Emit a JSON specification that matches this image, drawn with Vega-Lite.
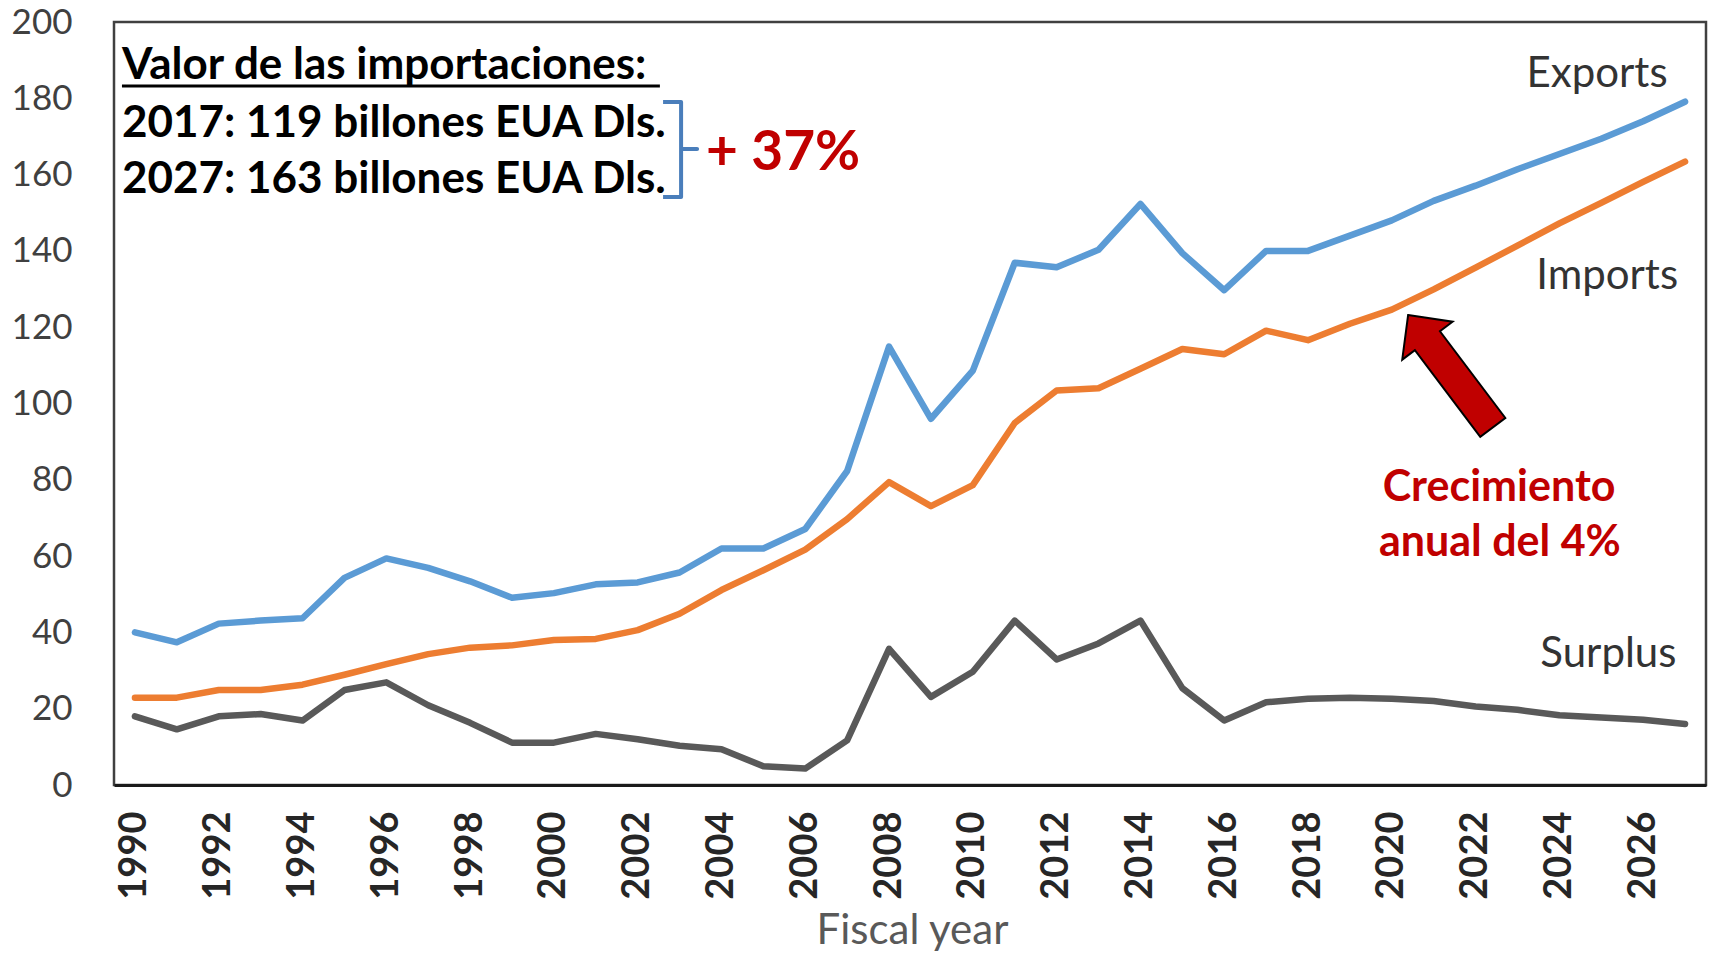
{
  "$schema": "https://vega.github.io/schema/vega-lite/v6.json",
  "width": 1592,
  "height": 763,
  "autosize": {"type": "none"},
  "padding": {"left": 114, "top": 22, "right": 3, "bottom": 168},
  "background": "white",
  "config": {
    "font": "Lato",
    "view": {"stroke": "#404040", "strokeWidth": 2.5}
  },
  "encoding": {
    "x": {
      "field": "year",
      "type": "quantitative",
      "scale": {"domain": [1989.5, 2027.5], "nice": false, "zero": false},
      "axis": {
        "values": [1990, 1992, 1994, 1996, 1998, 2000, 2002, 2004, 2006, 2008, 2010, 2012, 2014, 2016, 2018, 2020, 2022, 2024, 2026],
        "format": "d",
        "grid": false,
        "ticks": false,
        "domain": true,
        "domainColor": "#1a1a1a",
        "domainWidth": 3,
        "labelAngle": 270,
        "labelAlign": "right",
        "labelBaseline": "middle",
        "labelPadding": 26,
        "labelFontSize": 38,
        "labelFontWeight": "bold",
        "labelColor": "#262626",
        "labelOverlap": false,
        "title": "Fiscal year",
        "titleFontSize": 42,
        "titleFontWeight": "normal",
        "titleColor": "#595959",
        "titleX": 798,
        "titleY": 158,
        "titleBaseline": "alphabetic",
        "titleAlign": "center",
        "titleAnchor": null
      }
    },
    "y": {
      "field": "value",
      "type": "quantitative",
      "scale": {"domain": [0, 200], "nice": false},
      "axis": {
        "values": [0, 20, 40, 60, 80, 100, 120, 140, 160, 180, 200],
        "grid": false,
        "ticks": false,
        "domain": false,
        "labelPadding": 42,
        "labelFontSize": 35,
        "labelColor": "#404040",
        "title": null
      }
    }
  },
  "layer": [
    {
      "data": {
        "values": [
          {"year": 1990, "Exports": 40, "Imports": 22.9, "Surplus": 18},
          {"year": 1991, "Exports": 37.4, "Imports": 22.9, "Surplus": 14.6},
          {"year": 1992, "Exports": 42.3, "Imports": 24.9, "Surplus": 18},
          {"year": 1993, "Exports": 43.1, "Imports": 24.9, "Surplus": 18.6},
          {"year": 1994, "Exports": 43.7, "Imports": 26.3, "Surplus": 16.9},
          {"year": 1995, "Exports": 54.3, "Imports": 28.9, "Surplus": 24.9},
          {"year": 1996, "Exports": 59.4, "Imports": 31.7, "Surplus": 26.9},
          {"year": 1997, "Exports": 56.9, "Imports": 34.3, "Surplus": 20.9},
          {"year": 1998, "Exports": 53.4, "Imports": 36, "Surplus": 16.3},
          {"year": 1999, "Exports": 49.1, "Imports": 36.6, "Surplus": 11.1},
          {"year": 2000, "Exports": 50.3, "Imports": 38, "Surplus": 11.1},
          {"year": 2001, "Exports": 52.6, "Imports": 38.3, "Surplus": 13.4},
          {"year": 2002, "Exports": 53.1, "Imports": 40.6, "Surplus": 12},
          {"year": 2003, "Exports": 55.7, "Imports": 44.9, "Surplus": 10.3},
          {"year": 2004, "Exports": 62, "Imports": 51.1, "Surplus": 9.4},
          {"year": 2005, "Exports": 62, "Imports": 56.3, "Surplus": 4.9},
          {"year": 2006, "Exports": 67.1, "Imports": 61.7, "Surplus": 4.3},
          {"year": 2007, "Exports": 82.3, "Imports": 69.7, "Surplus": 11.7},
          {"year": 2008, "Exports": 114.9, "Imports": 79.4, "Surplus": 35.7},
          {"year": 2009, "Exports": 96, "Imports": 73.1, "Surplus": 23.1},
          {"year": 2010, "Exports": 108.6, "Imports": 78.6, "Surplus": 29.7},
          {"year": 2011, "Exports": 136.9, "Imports": 94.9, "Surplus": 43.1},
          {"year": 2012, "Exports": 135.7, "Imports": 103.4, "Surplus": 32.9},
          {"year": 2013, "Exports": 140.3, "Imports": 104, "Surplus": 37.1},
          {"year": 2014, "Exports": 152.3, "Imports": 109.1, "Surplus": 43.1},
          {"year": 2015, "Exports": 139.4, "Imports": 114.3, "Surplus": 25.4},
          {"year": 2016, "Exports": 129.7, "Imports": 112.9, "Surplus": 16.9},
          {"year": 2017, "Exports": 140, "Imports": 119.1, "Surplus": 21.7},
          {"year": 2018, "Exports": 140, "Imports": 116.6, "Surplus": 22.6},
          {"year": 2019, "Exports": 144, "Imports": 120.9, "Surplus": 22.9},
          {"year": 2020, "Exports": 148, "Imports": 124.6, "Surplus": 22.6},
          {"year": 2021, "Exports": 153.1, "Imports": 129.9, "Surplus": 22},
          {"year": 2022, "Exports": 157.1, "Imports": 135.6, "Surplus": 20.6},
          {"year": 2023, "Exports": 161.4, "Imports": 141.4, "Surplus": 19.7},
          {"year": 2024, "Exports": 165.4, "Imports": 147.2, "Surplus": 18.3},
          {"year": 2025, "Exports": 169.4, "Imports": 152.6, "Surplus": 17.7},
          {"year": 2026, "Exports": 174, "Imports": 158.1, "Surplus": 17.1},
          {"year": 2027, "Exports": 179.1, "Imports": 163.4, "Surplus": 16}
        ]
      },
      "transform": [{"fold": ["Exports", "Imports", "Surplus"], "as": ["series", "value"]}],
      "mark": {"type": "line", "strokeWidth": 6.5, "strokeJoin": "round", "strokeCap": "round"},
      "encoding": {
        "color": {
          "field": "series",
          "type": "nominal",
          "scale": {"domain": ["Exports", "Imports", "Surplus"], "range": ["#5B9BD5", "#ED7D31", "#595959"]},
          "legend": null
        }
      }
    },
    {
      "data": {
        "values": [
          {"year": 1989.69, "value": 185.06, "t": "Valor de las importaciones:"},
          {"year": 1989.69, "value": 169.86, "t": "2017: 119 billones EUA Dls."},
          {"year": 1989.69, "value": 155.18, "t": "2027: 163 billones EUA Dls."}
        ]
      },
      "mark": {"type": "text", "align": "left", "baseline": "alphabetic", "fontSize": 44, "fontWeight": "bold", "color": "#000000"},
      "encoding": {"text": {"field": "t"}}
    },
    {
      "data": {"values": [{"year": 1989.69, "year2": 2002.53, "value": 183.2}]},
      "mark": {"type": "rule", "strokeWidth": 3, "color": "#000000"},
      "encoding": {"x2": {"field": "year2"}}
    },
    {
      "data": {
        "values": [
          {"i": 1, "year": 2002.606, "value": 179.03},
          {"i": 2, "year": 2003.036, "value": 179.03},
          {"i": 3, "year": 2003.036, "value": 166.71},
          {"i": 4, "year": 2003.418, "value": 166.71},
          {"i": 5, "year": 2003.036, "value": 166.71},
          {"i": 6, "year": 2003.036, "value": 154.13},
          {"i": 7, "year": 2002.606, "value": 154.13}
        ]
      },
      "mark": {"type": "line", "strokeWidth": 4, "color": "#4A7EBB", "strokeJoin": "round"},
      "encoding": {"order": {"field": "i", "type": "quantitative"}}
    },
    {
      "data": {"values": [{"year": 2003.63, "value": 161.2, "t": "+ 37%"}]},
      "mark": {"type": "text", "align": "left", "baseline": "alphabetic", "fontSize": 55, "fontWeight": "bold", "color": "#C00000"},
      "encoding": {"text": {"field": "t"}}
    },
    {
      "data": {
        "values": [
          {"year": 2024.9, "value": 183.0, "t": "Exports"},
          {"year": 2025.14, "value": 130.0, "t": "Imports"},
          {"year": 2025.17, "value": 30.9, "t": "Surplus"}
        ]
      },
      "mark": {"type": "text", "align": "center", "baseline": "alphabetic", "fontSize": 42, "color": "#333333"},
      "encoding": {"text": {"field": "t"}}
    },
    {
      "data": {
        "values": [
          {"year": 2022.56, "value": 74.4, "t": "Crecimiento"},
          {"year": 2022.58, "value": 60.0, "t": "anual del 4%"}
        ]
      },
      "mark": {"type": "text", "align": "center", "baseline": "alphabetic", "fontSize": 43, "fontWeight": "bold", "color": "#C00000"},
      "encoding": {"text": {"field": "t"}}
    },
    {
      "data": {"values": [{"year": 2021.4, "value": 108.45}]},
      "mark": {
        "type": "point",
        "filled": true,
        "shape": "M0,-1L0.448,-0.544L0.223,-0.544L0.223,1L-0.223,1L-0.223,-0.544L-0.448,-0.544Z",
        "size": 19796,
        "angle": 323,
        "fill": "#C00000",
        "stroke": "#000000",
        "strokeWidth": 2,
        "opacity": 1,
        "fillOpacity": 1
      }
    }
  ]
}
